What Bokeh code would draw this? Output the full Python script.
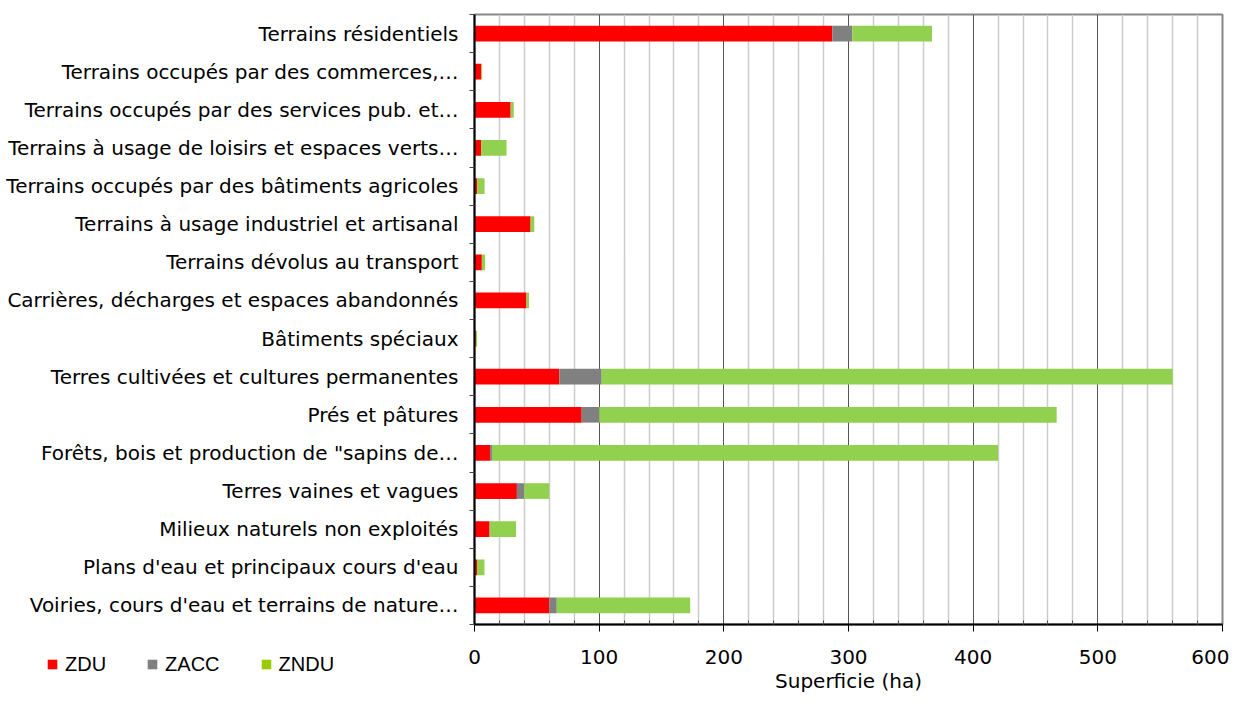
from bokeh.plotting import figure
from bokeh.models import ColumnDataSource, Range1d, FixedTicker, Legend, LegendItem
from bokeh.embed import file_html
from bokeh.resources import INLINE

categories = [
    "Terrains résidentiels",
    "Terrains occupés par des commerces,…",
    "Terrains occupés par des services pub. et…",
    "Terrains à usage de loisirs et espaces verts…",
    "Terrains occupés par des bâtiments agricoles",
    "Terrains à usage industriel et artisanal",
    "Terrains dévolus au transport",
    "Carrières, décharges et espaces abandonnés",
    "Bâtiments spéciaux",
    "Terres cultivées et cultures permanentes",
    "Prés et pâtures",
    "Forêts, bois et production de \"sapins de…",
    "Terres vaines et vagues",
    "Milieux naturels non exploités",
    "Plans d'eau et principaux cours d'eau",
    "Voiries, cours d'eau et terrains de nature…",
]
ZDU = [287, 5.5, 29, 5.3, 2.1, 45, 5.9, 41.7, 1.1, 68, 86, 12.5, 34, 12, 2, 60]
ZACC = [16, 0, 0, 0, 0, 0, 0, 0, 0, 34, 14, 1.5, 6, 0.3, 0, 6]
ZNDU = [64, 0.7, 2.5, 20.4, 6, 3, 2.6, 2, 1, 458, 367, 406, 20, 21, 6, 107]

series = ["ZDU", "ZACC", "ZNDU"]
colors = ["#FF0000", "#808080", "#92D050"]
legend_colors = ["#FF0000", "#808080", "#99CC00"]
x_ticks = [0, 100, 200, 300, 400, 500, 600]

FONT = "DejaVu Sans"
FS = "20px"

ys = list(range(len(categories)))
source = ColumnDataSource(dict(y=ys, ZDU=ZDU, ZACC=ZACC, ZNDU=ZNDU))

p = figure(width=1229, height=695, output_backend="svg", toolbar_location=None,
           x_range=Range1d(0, 600), y_range=Range1d(len(categories) - 0.5, -0.5),
           min_border_left=474, min_border_right=7, min_border_top=14, min_border_bottom=70)

p.hbar_stack(series, y="y", height=0.41, color=colors, line_color=None, source=source)

# x axis
p.xaxis.ticker = FixedTicker(ticks=x_ticks,
                             minor_ticks=[v for v in range(0, 601, 20) if v % 100 != 0])
p.xaxis.axis_line_color = "black"
p.xaxis.axis_line_width = 2
p.xaxis.major_tick_line_color = "black"
p.xaxis.major_tick_out = 7
p.xaxis.major_tick_in = 0
p.xaxis.minor_tick_line_color = "#555555"
p.xaxis.minor_tick_in = 4
p.xaxis.minor_tick_out = 0
p.xaxis.major_label_standoff = 18
p.xaxis.major_label_text_font = FONT
p.xaxis.major_label_text_font_size = FS
p.xaxis.major_label_text_color = "black"
p.xaxis.axis_label = "Superficie (ha)"
p.xaxis.axis_label_text_font = FONT
p.xaxis.axis_label_text_font_size = FS
p.xaxis.axis_label_text_font_style = "normal"
p.xaxis.axis_label_text_color = "black"
p.xaxis.axis_label_standoff = 2

# y axis
p.yaxis.ticker = FixedTicker(ticks=ys, minor_ticks=[i - 0.5 for i in range(len(categories) + 1)])
p.yaxis.major_label_overrides = {i: c for i, c in enumerate(categories)}
p.yaxis.major_tick_line_color = None
p.yaxis.major_tick_out = 0
p.yaxis.major_tick_in = 0
p.yaxis.minor_tick_line_color = "#444444"
p.yaxis.minor_tick_out = 5
p.yaxis.minor_tick_in = 0
p.yaxis.axis_line_color = "black"
p.yaxis.axis_line_width = 2
p.yaxis.major_label_standoff = 11
p.yaxis.major_label_text_font = FONT
p.yaxis.major_label_text_font_size = FS
p.yaxis.major_label_text_color = "black"

# grids
p.ygrid.grid_line_color = None
p.xgrid.grid_line_color = "#555555"
p.xgrid.grid_line_width = 1
p.xgrid.minor_grid_line_color = "#cccccc"
p.xgrid.minor_grid_line_width = 1.5

p.outline_line_color = "#888888"
p.outline_line_width = 2

# legend: a separate small root, pulled up under the y labels
lf = figure(width=340, height=24, output_backend="svg", toolbar_location=None,
            x_range=Range1d(0, 1), y_range=Range1d(0, 1),
            x_axis_location=None, y_axis_location=None,
            min_border=0, margin=(-43, 0, 0, 46))
lf.grid.visible = False
lf.outline_line_color = None
lf.background_fill_alpha = 0
lf.border_fill_alpha = 0
hidden = ColumnDataSource(dict(x=[-10], y=[-10]))
items = []
for s, c in zip(series, legend_colors):
    r = lf.rect(x="x", y="y", width=1, height=1, color=c, line_color=None, source=hidden)
    items.append(LegendItem(label=s, renderers=[r]))
legend = Legend(items=items, orientation="horizontal", location="top_left",
                label_text_font="Liberation Sans", label_text_font_size=FS, label_text_color="black",
                glyph_width=12, glyph_height=12, label_standoff=7, spacing=40, label_height=24,
                background_fill_alpha=0, border_line_color=None, padding=0, margin=0)
lf.add_layout(legend, "center")

open("out.html", "w").write(file_html([p, lf], INLINE))
